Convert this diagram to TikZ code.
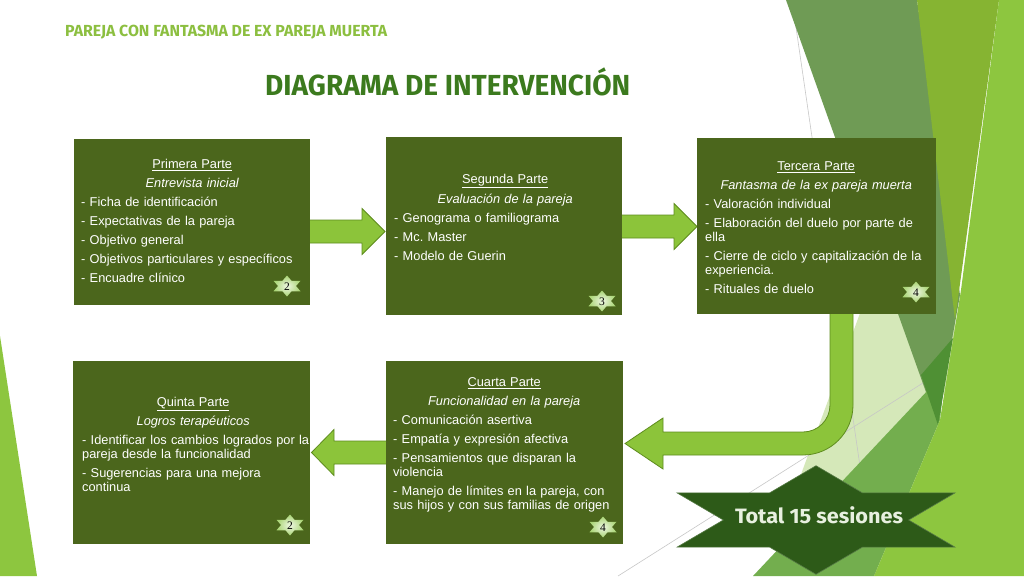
\documentclass[tikz,border=0pt]{standalone}
\usepackage{fontspec}
\setmainfont{Liberation Sans}
\newfontfamily\headfont{Fira Sans}
\newfontfamily\numfont{Liberation Serif}
\usepackage{graphicx}
\usetikzlibrary{calc}
\definecolor{boxgreen}{HTML}{4B661C}
\definecolor{arrowfill}{HTML}{8CC43A}
\definecolor{arrowline}{HTML}{5E8C1E}
\definecolor{badgein}{HTML}{EEF7E2}
\definecolor{badgeout}{HTML}{A9D474}
\definecolor{titlegreen}{HTML}{3C7A1E}
\definecolor{subgreen}{HTML}{8CBF40}
\definecolor{totalfill}{HTML}{2D5A18}
\definecolor{totaltext}{HTML}{E8F0E0}
\definecolor{decoA}{HTML}{6F9B55}
\definecolor{decoB}{HTML}{86B432}
\definecolor{decoC}{HTML}{8DC63F}
\definecolor{decoD}{HTML}{73AE4E}
\definecolor{decoDark}{HTML}{4F9034}
\definecolor{decoPale}{HTML}{D5E8B9}
\newcommand\hexpath[4]{({#1},{#2-#3}) -- ({#1+#4/3},{#2-#3/2}) -- ({#1+#4},{#2-#3/2}) -- ({#1+2*#4/3},{#2}) -- ({#1+#4},{#2+#3/2}) -- ({#1+#4/3},{#2+#3/2}) -- ({#1},{#2+#3}) -- ({#1-#4/3},{#2+#3/2}) -- ({#1-#4},{#2+#3/2}) -- ({#1-2*#4/3},{#2}) -- ({#1-#4},{#2-#3/2}) -- ({#1-#4/3},{#2-#3/2}) -- cycle}
\begin{document}
\begin{tikzpicture}[x=1pt,y=-1pt,
  box/.style={rectangle, fill=boxgreen, inner sep=0pt, draw=none, anchor=north west},
  boxtext/.style={anchor=north west, text width=240pt, align=left, inner sep=0pt, text=white,
     font=\fontsize{12.8}{14}\selectfont,
     execute at begin node={\setlength{\parskip}{5pt}\setlength{\parindent}{0pt}}},
  blockarrow/.style={fill=arrowfill, draw=arrowline, line width=0.8pt, line join=miter},
  badgestar/.style={inner color=badgein, outer color=badgeout},
  badgenum/.style={font=\numfont\fontsize{11.5}{11.5}\selectfont, text=black, inner sep=0pt},
  grayline/.style={draw=black!22, line width=0.6pt}]
\useasboundingbox (0,0) rectangle (1024,576);
\fill[white] (0,0) rectangle (1024,576);
% decoration
\fill[decoC] (0,336) -- (37,576) -- (0,576) -- cycle;
\fill[decoPale] (938,100) -- (777,540) -- (960,380) -- cycle;
\draw[grayline] (792,0) -- (876,576);
\draw[grayline] (618,576) -- (1024,319);
\fill[decoA] (786,0) -- (917,0) -- (960,295) -- (937,423) -- cycle;
\fill[decoB] (917,0) -- (999,0) -- (955,320) -- cycle;
\fill[decoD] (753,576) -- (945,372) -- (940,420) -- (874,576) -- cycle;
\fill[decoDark] (953,338) -- (921,375) -- (938,425) -- cycle;
\fill[decoC] (999,0) -- (1024,0) -- (1024,576) -- (874,576) -- (940,420) -- (961,290) -- cycle;
% arrows
\coordinate (a1) at (300,231.5);
\draw[blockarrow] (300,220) -- (362,220) -- (362,208.5) -- (385,231.5) -- (362,254.5) -- (362,243) -- (300,243) -- cycle;
\coordinate (a2) at (612,226.5);
\draw[blockarrow] (612,215) -- (674,215) -- (674,203.5) -- (697,226.5) -- (674,249.5) -- (674,238) -- (612,238) -- cycle;
\coordinate (a3) at (396,452.5);
\draw[blockarrow] (396,441) -- (334,441) -- (334,429.5) -- (311.5,452.5) -- (334,475.5) -- (334,464) -- (396,464) -- cycle;
\coordinate (a4) at (841.5,305);
\draw[blockarrow] (830,305) -- (830,405) arc[start angle=0,end angle=-90,radius=27pt] -- (663,432) -- (663,418) -- (625,443.5) -- (663,469) -- (663,455) -- (803,455) arc[start angle=-90,end angle=0,radius=50pt] -- (853,305) -- cycle;
% boxes
\node[box, minimum width=236pt, minimum height=166pt] (b1) at (74,139) {};
\node[box, minimum width=236pt, minimum height=178pt] (b2) at (386,137) {};
\node[box, minimum width=239pt, minimum height=176pt] (b3) at (697,138) {};
\node[box, minimum width=237pt, minimum height=183pt] (b4) at (386,361) {};
\node[box, minimum width=237pt, minimum height=183pt] (b5) at (73,361) {};
% texts
\node[boxtext] (t1) at (81,158.8) {\makebox[222pt]{\underline{Primera Parte}}\par
\makebox[222pt]{\itshape Entrevista inicial}\par
- Ficha de identificación\par
- Expectativas de la pareja\par
- Objetivo general\par
- Objetivos particulares y específicos\par
- Encuadre clínico};
\node[boxtext] (t2) at (394,173.8) {\makebox[222pt]{\underline{Segunda Parte}}\par
\makebox[222pt]{\itshape Evaluación de la pareja}\par
- Genograma o familiograma\par
- Mc.\ Master\par
- Modelo de Guerin};
\node[boxtext] (t3) at (705,161.3) {\makebox[222pt]{\underline{Tercera Parte}}\par
\makebox[222pt]{\itshape Fantasma de la ex pareja muerta}\par
- Valoración individual\par
- Elaboración del duelo por parte de\newline ella\par
- Cierre de ciclo y capitalización de la\newline experiencia.\par
- Rituales de duelo};
\node[boxtext] (t4) at (393,377.3) {\makebox[222pt]{\underline{Cuarta Parte}}\par
\makebox[222pt]{\itshape Funcionalidad en la pareja}\par
- Comunicación asertiva\par
- Empatía y expresión afectiva\par
- Pensamientos que disparan la\newline violencia\par
- Manejo de límites en la pareja, con\newline sus hijos y con sus familias de origen};
\node[boxtext] (t5) at (82,397.3) {\makebox[222pt]{\underline{Quinta Parte}}\par
\makebox[222pt]{\itshape Logros terapéuticos}\par
- Identificar los cambios logrados por la\newline pareja desde la funcionalidad\par
- Sugerencias para una mejora\newline continua};
% badges
\shade[badgestar] \hexpath{287}{286}{10.5}{13.5};
\node[badgenum] (n1) at (287,286.5) {2};
\shade[badgestar] \hexpath{602}{301}{10.5}{13.5};
\node[badgenum] (n2) at (602,301.5) {3};
\shade[badgestar] \hexpath{916}{292}{10.5}{13.5};
\node[badgenum] (n3) at (916,292.5) {4};
\shade[badgestar] \hexpath{603}{527}{10.5}{13.5};
\node[badgenum] (n4) at (603,527.5) {4};
\shade[badgestar] \hexpath{290}{525}{10.5}{13.5};
\node[badgenum] (n5) at (290,525.5) {2};
% total star
\filldraw[fill=totalfill, draw=totalfill!80!white, line width=0.6pt] \hexpath{816}{520}{54.3}{139};
\node[anchor=base, inner sep=0pt, text=totaltext] (total) at (819,523) {\resizebox{168pt}{\height}{\headfont\bfseries\fontsize{20.8}{21}\selectfont Total 15 sesiones}};
% titles
\node[anchor=base west, inner sep=0pt, text=subgreen] (sub) at (65,36) {\resizebox{322pt}{\height}{\headfont\bfseries\fontsize{16}{16}\selectfont PAREJA CON FANTASMA DE EX PAREJA MUERTA}};
\node[anchor=base west, inner sep=0pt, text=titlegreen] (title) at (265,95) {\resizebox{365pt}{\height}{\headfont\bfseries\fontsize{29}{29}\selectfont DIAGRAMA DE INTERVENCIÓN}};
\end{tikzpicture}
\end{document}
